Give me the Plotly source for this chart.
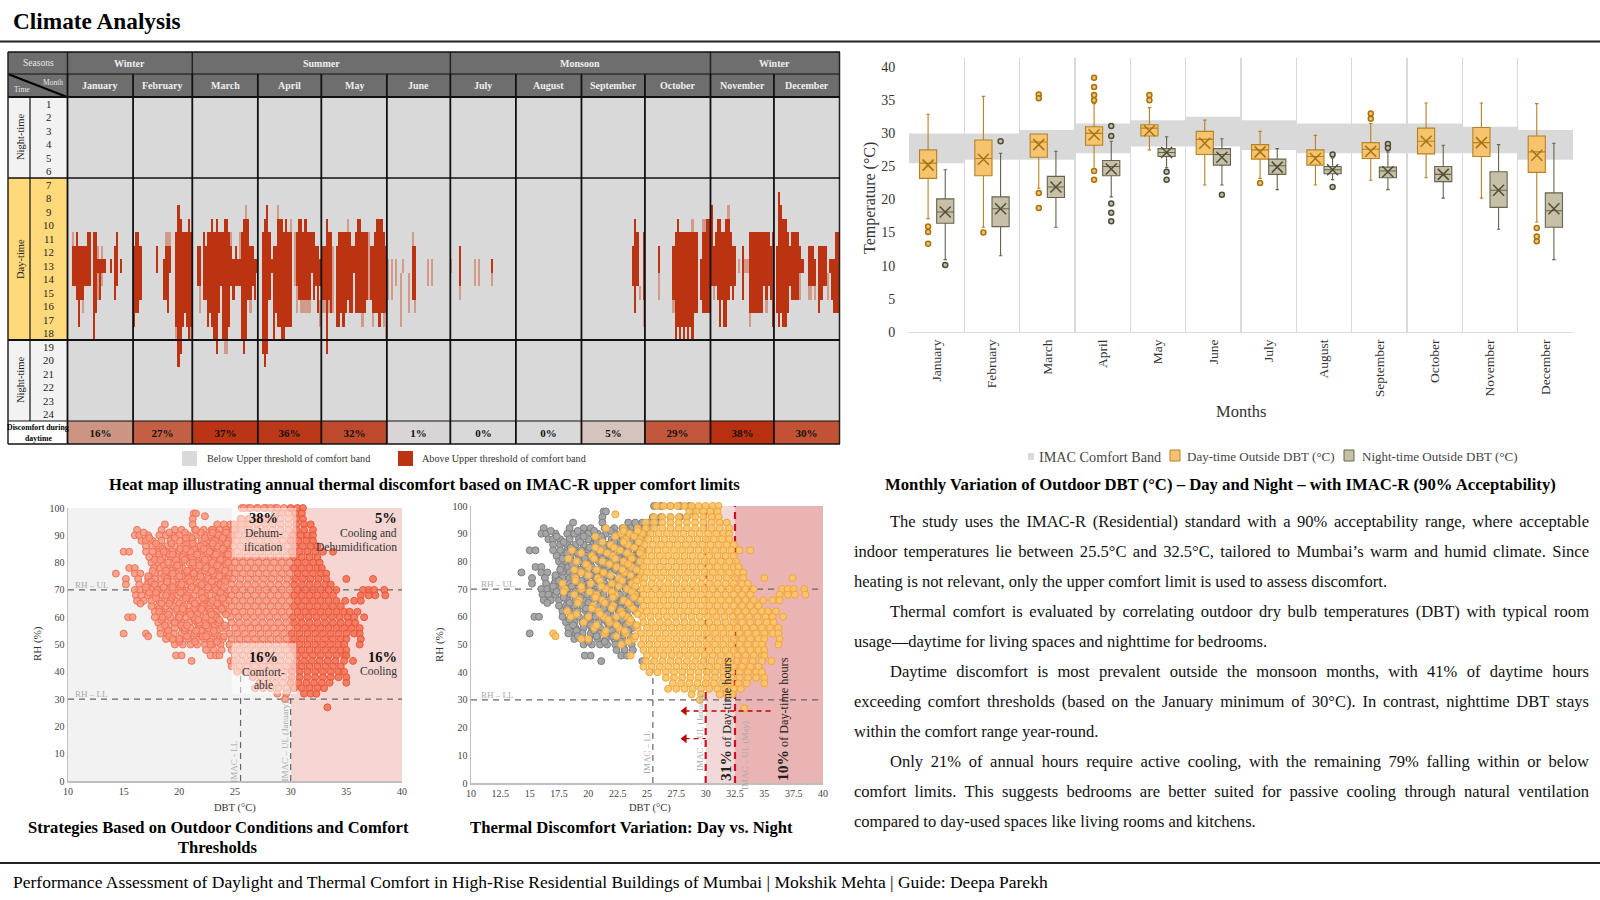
import json
import plotly.graph_objects as go

FONT = "Liberation Serif"
MONTHS = ["January","February","March","April","May","June","July","August","September","October","November","December"]
MONTH_DAYS = [31,28,31,30,31,30,31,31,30,31,30,31]
SEASONS = [("Winter",0,2),("Summer",2,6),("Monsoon",6,10),("Winter",10,12)]
DISCOMFORT = [16,27,37,36,32,1,0,0,5,29,38,30]

# first / last hour above threshold, per day (0 = none)
JAN_TOP=[0,0,12,12,11,12,12,12,12,11,11,0,11,11,13,13,13,13,0,0,13,0,12,11,0,13,0,0,0,0,0]
JAN_BOT=[0,0,14,14,15,17,15,15,14,14,14,0,18,16,13,15,13,13,0,0,13,0,15,14,0,13,0,0,0,0,0]
FEB_TOP=[12,11,11,12,0,0,0,0,0,0,0,12,0,0,13,12,12,12,0,0,11,9,10,11,11,11,10,11]
FEB_BOT=[17,16,16,15,0,0,0,0,0,0,0,13,0,0,15,15,16,13,0,0,17,20,19,17,16,17,18,17]
MAR_TOP=[0,0,12,12,0,11,12,11,11,10,11,10,11,11,11,10,10,11,12,13,12,13,13,11,10,10,10,12,12,13,13]
MAR_BOT=[0,0,14,14,0,15,15,17,16,17,18,19,16,14,18,18,18,17,14,15,14,14,14,18,19,18,15,15,14,15,13]
APR_TOP=[0,0,11,10,9,11,13,12,12,10,10,10,11,10,11,11,0,0,11,10,10,11,10,11,11,11,11,12,12,13]
APR_BOT=[0,0,19,20,19,15,13,18,16,17,17,18,18,17,17,17,0,0,14,15,15,15,15,15,15,13,15,14,16,14]
MAY_TOP=[12,12,10,11,11,0,0,12,11,11,11,11,11,11,12,12,11,10,10,11,11,11,0,12,12,11,10,10,10,11,12]
MAY_BOT=[15,15,19,15,16,0,0,17,17,16,17,16,15,16,16,13,16,16,16,16,16,15,0,15,16,16,16,17,16,16,16]
JUN_TOP=[0,0,0,0,0,0,0,0,0,0,0,0,12,12,0,0,0,0,0,0,0,0,0,0,0,0,0,0,0,0]
JUN_BOT=[0,0,0,0,0,0,0,0,0,0,0,0,15,15,0,0,0,0,0,0,0,0,0,0,0,0,0,0,0,0]
JUL_TOP=[0,0,0,0,12,0,0,0,0,0,0,0,0,0,0,0,0,0,0,13,0,0,0,0,0,0,0,0,0,0,0]
JUL_BOT=[0,0,0,0,14,0,0,0,0,0,0,0,0,0,0,0,0,0,0,13,0,0,0,0,0,0,0,0,0,0,0]
AUG_TOP=[0,0,0,0,0,0,0,0,0,0,0,0,0,0,0,0,0,0,0,0,0,0,0,0,0,0,0,0,0,0,0]
AUG_BOT=[0,0,0,0,0,0,0,0,0,0,0,0,0,0,0,0,0,0,0,0,0,0,0,0,0,0,0,0,0,0,0]
SEP_TOP=[0,0,0,0,0,0,0,0,0,0,0,0,0,0,0,0,0,0,0,0,0,0,0,0,12,10,11,0,0,11]
SEP_BOT=[0,0,0,0,0,0,0,0,0,0,0,0,0,0,0,0,0,0,0,0,0,0,0,0,14,16,14,0,0,15]
OCT_TOP=[0,0,0,0,0,0,12,0,0,0,0,0,0,12,11,10,11,11,11,11,11,11,11,11,11,0,13,11,11,10,10]
OCT_BOT=[0,0,0,0,0,0,13,0,0,0,0,0,0,15,18,17,18,17,18,17,18,17,18,16,16,0,15,16,16,16,16]
NOV_TOP=[9,12,11,10,10,11,11,10,10,11,12,12,0,0,0,12,0,0,11,11,11,11,11,11,11,11,11,11,12,11]
NOV_BOT=[14,14,14,15,17,15,17,17,15,14,15,14,0,0,0,15,0,0,16,16,16,16,16,16,16,14,15,14,15,17]
DEC_TOP=[0,12,8,9,10,10,11,12,11,11,11,11,12,13,0,0,12,12,12,13,0,12,12,12,12,0,13,13,13,11,11]
DEC_BOT=[0,16,17,16,17,17,16,14,15,15,15,15,13,13,0,0,14,14,14,14,0,16,15,14,14,0,13,15,16,16,16]
TOPS=[JAN_TOP,FEB_TOP,MAR_TOP,APR_TOP,MAY_TOP,JUN_TOP,JUL_TOP,AUG_TOP,SEP_TOP,OCT_TOP,NOV_TOP,DEC_TOP]
BOTS=[JAN_BOT,FEB_BOT,MAR_BOT,APR_BOT,MAY_BOT,JUN_BOT,JUL_BOT,AUG_BOT,SEP_BOT,OCT_BOT,NOV_BOT,DEC_BOT]
# partly-above hours: month, day, first hour, last hour
FAINT=[(1,3,11,11),(1,8,16,16),(1,15,12,12),(1,15,14,15),(1,17,12,14),(2,16,11,11),(2,17,11,11),(2,18,11,12),(2,21,18,18),(2,28,18,18),
(3,4,15,16),(3,12,19,19),(3,16,19,19),(3,17,19,19),(3,19,11,11),(3,23,11,12),(3,26,9,9),(3,28,16,16),
(4,10,9,9),(4,16,10,10),(4,18,11,14),(4,19,15,16),(4,21,16,16),(4,22,16,16),(4,23,16,16),(4,24,16,16),(4,25,16,16),(4,30,16,17),
(5,1,16,16),(5,2,16,16),(5,4,16,16),(5,6,12,16),(5,13,10,10),(5,20,17,17),(5,23,11,15),(5,25,17,17),(5,28,17,17),(5,30,17,17),(5,31,17,18),
(6,1,13,15),(6,3,13,15),(6,5,13,14),(6,7,14,17),(6,8,13,13),(6,11,14,16),(6,13,11,11),(6,14,16,16),(6,20,13,14),(6,22,13,14),
(7,1,13,13),(7,5,15,15),(7,12,13,14),(7,14,13,14),(7,20,14,14),
(9,28,15,15),(9,30,16,17),(10,7,14,15),(10,14,16,16),(10,23,10,10),(10,28,10,10),(10,29,10,10),
(11,2,15,15),(11,9,9,9),(11,14,13,13),(11,17,13,13),(11,18,13,13),(11,19,17,17),(11,27,16,16),
(12,13,14,15),(12,17,15,15),(12,18,15,15),(12,20,15,15),(12,23,15,15),(12,26,14,15)]

# monthly comfort band
BAND_LOW =[25.5,26,26,27,28,28,27.5,27,27,27,27,26]
BAND_HIGH=[30,30,30.5,31.5,32,32.5,32,31.5,31.5,31.5,31,30.5]
# day-time box statistics
DAY_WHI=[32.9,35.6,29.9,34.5,33.9,32,30.3,29.7,31.5,34.6,34.6,34.5]
DAY_Q3 =[27.5,29,29.9,31,31.3,30.3,28.3,27.5,28.6,30.8,30.9,29.6]
DAY_MED=[25.5,26.2,28.7,30,30.8,29.1,27.5,26.5,27.6,28.8,28.6,27.2]
DAY_Q1 =[23.2,23.6,26.4,28.2,29.6,26.8,26.1,25.2,26.2,26.9,26.5,24.1]
DAY_WLO=[17.1,15.8,21.7,24.6,27.5,22.2,23.2,22.2,22.9,23.3,20.2,16.6]
DAY_AVG=[25.2,26.1,28.3,29.8,30.4,28.5,27.2,26.2,27.3,28.8,28.6,26.7]
DAY_OUT_M=[0,0,0,1,2,2,2,2,3,3,3,3,3,3,4,4,6,8,8,11,11,11]
DAY_OUT_V=[15.9,15.1,13.3,15,35.9,35.3,21,18.7,38.4,37,35.8,35,24.3,23,35.8,35,22.5,33,32.2,15.7,14.4,13.7]
# night-time box statistics
NIGHT_WHI=[24.5,27,27.3,28.8,29.5,29.2,27.7,26.3,27.2,28.2,28.3,28.5]
NIGHT_Q3 =[20.1,20.4,23.5,25.9,27.7,27.7,26.1,25,24.9,25,24.2,21]
NIGHT_MED=[18.1,18.6,21.9,25,27.1,26.8,25.1,24.5,24.3,23.8,21.4,18.3]
NIGHT_Q1 =[16.4,15.9,20.3,23.6,26.5,25.2,23.8,23.9,23.3,22.7,18.8,15.8]
NIGHT_WLO=[10.9,11.5,15.8,20.4,24.8,22.2,21.5,23,21.5,20.2,15.5,10.9]
NIGHT_AVG=[18.1,18.6,21.9,24.6,27.1,26.4,24.9,24.5,24.2,23.8,21.4,18.6]
NIGHT_OUT_M=[0,1,3,3,3,3,3,4,4,5,7,7,8,8]
NIGHT_OUT_V=[10.1,28.8,31.1,29.6,19.4,18,16.7,24.2,23,20.7,26.8,21.9,28.4,27.8]

# hourly DBT readings grouped by RH
RH_LEVELS=[100,98,96,94,92,90,88,86,84,82,80,78,76,74,72,70,68,66,64,62,60,58,56,54,52,50,48,46,44,42,40,38,36,34,32,30]
NIGHT_DBT=[
[25.6,26.2,27,27.8,28.6],[21.3,21.5,29],[21.2,25.5,26.2,27,27.8,28.4],[18.7,21.2,23.4,24,24.6,25.2,25.8],
[16.2,18.4,19.6,20.2,21.4,22.2,22.9,23.6,24.2,24.8,25.3],[16,16.4,17.2,18.2,18.8,19.4,20,20.8,21.5,22.3,23,23.7,24.4,25],
[16.6,17,17.6,18.4,19.2,20,20.6,21.2,22,22.6,23.4,24.1,24.7],[17,17.6,18.2,18.9,19.6,20.4,21,21.7,22.4,23,23.8,24.5],
[15,15.5,17,17.6,18.2,18.8,19.4,20,20.8,21.4,22,22.8,23.4,24.1,24.7],[17.3,17.9,18.5,19.2,19.8,20.5,21.1,21.8,22.5,23.2,23.9,24.6],
[17.5,18.1,18.6,19.4,20.2,20.9,21.5,22.2,22.9,23.6,24.3],[15.5,16,17.7,18.3,18.9,19.6,20.3,21.1,21.7,22.4,23.1,23.8,24.5],
[14.3,16,16.5,17.8,18.4,19,19.7,20.5,21.2,21.9,22.6,23.3,24],[15.2,16.3,17.2,17.8,18.4,19,19.8,20.6,21.3,22,22.7,23.4,24.1],
[15.2,16.4,17.1,17.7,18.4,19.2,20,20.7,21.4,22.1,22.8,23.5],[16,16.5,17,17.6,18.2,19,19.6,20.3,21,21.8,22.5,23.2,23.9],
[16.1,16.6,17.2,17.9,18.5,19.2,19.9,20.6,21.3,22,22.7,23.4,24.1],[16.2,16.8,17.5,18.2,18.9,19.6,20.3,21,21.7,22.4,23.1,23.8],
[17.5,18.1,18.8,19.5,20.2,20.9,21.6,22.3,23,23.7],[17.8,18.4,19.1,19.8,20.5,21.2,21.9,22.6,23.3,24],
[15.4,15.8,17.8,18.5,19.2,19.9,20.6,21.3,22,22.7,23.4],[18.1,18.8,19.5,20.2,20.9,21.6,22.3,23,23.7],
[18.3,18.9,19.6,20.3,21,21.7,22.4,23.1,23.8],[15,18.3,18.9,19.5,20.2,20.9,21.6,22.3,23],
[18.8,19.4,20.1,20.8,21.5,22.2,22.9,23.6],[19.6,20.3,21,21.6,22.3,23,23.7],[22.4,23.1,23.8],[19.7,20.2,22.8,23.3],[21.1,24.6],[],[],[],[],[],[],[]]
DAY_DBT=[
[25.8,26.4,27,27.6,28.2,28.8,29.4,30,30.6,31.1],[28.6,29.2,29.8,30.4,31],[25.6,26.3,27,27.7,28.4,29.1,29.8,30.5,31.1],
[24.9,25.6,26.3,27,27.7,28.4,29.1,29.8,30.5,31.2,31.8],[24.2,24.9,25.6,26.3,27,27.7,28.4,29.1,29.8,30.5,31.2,32],
[22.8,23.5,24.6,25.3,26,26.7,27.4,28.1,28.8,29.5,30.2,30.9,31.5,32],[23.2,24.4,25.1,25.8,26.5,27.2,27.9,28.6,29.3,30,30.7,31.4,32],
[21.9,23.4,24.8,25.5,26.2,26.9,27.6,28.3,29,29.7,30.4,31.1,31.8,32.4],[18.6,21,22.7,24.5,25.2,25.9,26.6,27.3,28,28.7,29.4,30.1,30.8,31.5,32.2,32.9,33.8],
[20.3,22.1,23.6,24.7,25.4,26.1,26.8,27.5,28.2,28.9,29.6,30.3,31,31.7,32.4],[19,21.2,23,24.4,25,25.7,26.4,27.1,27.8,28.5,29.2,29.9,30.6,31.3,32,32.6],
[20,22.4,23.7,24.7,25.4,26.1,26.8,27.5,28.2,28.9,29.6,30.3,31,31.7,32.4,32.8],[19.4,21.3,23.1,24.5,25,25.7,26.4,27.1,27.8,28.5,29.2,29.9,30.6,31.3,32,32.7,33.2],
[18.9,20.8,22.6,24.4,24.8,25.5,26.2,26.9,27.6,28.3,29,29.7,30.4,31.1,31.8,32.5,33.2,35,37.4],[17.8,20.2,22,23.7,24.7,25.4,26.1,26.8,27.5,28.2,28.9,29.6,30.3,31,31.7,32.4,33.1,33.6],
[18,19.4,21.5,23.3,24.6,25,25.7,26.4,27.1,27.8,28.5,29.2,29.9,30.6,31.3,32,32.7,33.4,34.1,36.5,37,37.5,38.4],[18.8,20.7,22.3,24,24.7,25.4,26.1,26.8,27.5,28.2,28.9,29.6,30.3,31,31.7,32.4,33.1,33.8,36.3,37,37.6,38.5],
[19.2,21.2,23,24.5,25,25.7,26.4,27.1,27.8,28.5,29.2,29.9,30.6,31.3,32,32.7,33.4,34.1,34.9,35.7,36.3],[20.4,22.1,23.6,24.7,25.4,26.1,26.8,27.5,28.2,28.9,29.6,30.3,31,31.7,32.4,33.1,33.8,34.5],
[18.2,20.9,22.8,24.4,25,25.7,26.4,27.1,27.8,28.5,29.2,29.9,30.6,31.3,32,32.7,33.4,34.1,34.8,35.3,36],[18.5,20,21.3,22.4,23.3,24.6,25.3,26,26.7,27.4,28.1,28.8,29.5,30.2,30.9,31.6,32.3,33,33.7,34.4,35.1,35.7,36.6],
[19.6,21.8,23.5,24.7,25.4,26.1,26.8,27.5,28.2,28.9,29.6,30.3,31,31.7,32.4,33.1,33.8,34.5,35.2,35.8],[20.5,22.6,24.2,25,25.7,26.4,27.1,27.8,28.5,29.2,29.9,30.6,31.3,32,32.7,33.4,34.1,34.8,35.5,36.2],
[17,21.4,23.2,24.5,25.2,25.9,26.6,27.3,28,28.7,29.4,30.1,30.8,31.5,32.2,32.9,33.6,34.3,35,35.7,36.2],[20,23.9,24.7,25.4,26.1,26.8,27.5,28.2,28.9,29.6,30.3,31,31.7,32.4,33.1,33.8,34.5,35,36.3],
[22.8,24.5,25.2,25.9,26.6,27.3,28,28.7,29.4,30.1,30.8,31.5,32.2,32.9,33.6,34.3,34.8,36.2],[24.7,25.4,26.1,26.8,27.5,28.2,28.9,29.6,30.3,31,31.7,32.4,33.1,33.8,34.5,35],
[23.6,25,25.7,26.4,27.1,27.8,28.5,29.2,29.9,30.6,31.3,32,32.7,33.4,34.1,34.8,35],[24.9,25.6,26.3,27,27.7,28.4,29.1,29.8,30.5,31.2,31.9,32.6,33.3,34,34.8,35.6],
[24.7,25.4,26.1,26.8,27.5,28.2,28.9,29.6,30.3,31,31.7,32.4,33.1,33.8,34.5],[25.2,25.9,26.6,27.3,28,28.7,29.4,30.1,30.8,31.5,32.2,32.9,33.6,34.3,34.8],
[26.6,27.3,28,28.7,29.4,30.1,30.8,31.5,32.2,32.9,33.6,34.3,35],[27.2,27.9,28.6,29.3,30,30.7,31.4,32.1,32.8,33.5,35],
[26.8,27.5,28.2,28.9,29.6,30.3,31,31.7,32.4,33],[28.8,29.6,31.2,31.8,32.3],[29.5]]
DAY_EXTRA_RH=[97,27,92,92,89,53,52]
DAY_EXTRA_DBT=[22.3,33.3,23,21.5,20.6,17.2,19.4]
# readings on the odd RH levels
ODD_RH=[91,89,87,85,83,81,79,77,75,73,71,69,67,65,63,61,59,57,55,53,51]
NIGHT_ODD=[[16.8,19.1,20.5,21.9,23.3,24.5],[17.3,19.6,21.1,22.9,24.4],[17.9,19.3,20.7,22.2,23.6],[18.5,20.1,21.3,22.5,24],[18.2,19.1,20.4,21.9,23.1,24.3],
[17.8,19.7,21.2,22.6,23.9],[18.6,20,21.4,22.9,24.2],[17.6,19.3,20.9,22.3,23.5],[17.2,18.7,20.2,21.6,23,24.4],[17.5,19.4,20.9,22.4,23.8],[17,18.6,20.1,21.7,23.1],
[17.3,18.9,20.4,22,23.6],[17.9,19.3,20.9,22.3,23.5],[16.5,18.4,20,21.4,22.8,24.2],[18.2,19.8,21.3,22.7,24],[18.6,20.1,21.6,23.1],[18.4,19.9,21.4,22.9],
[18.7,20.2,21.8,23.2],[19,20.5,22,23.4],[19.1,20.7,22.1,23.6],[20,21.4,22.8]]
DAY_ODD=[[23,24.2],[22.3,23.9],[21.2,23,24.3],[20.6,22.2,23.9],[19.4,21.6,23.3,24.4],[18.3,20.5,22.3,23.7],[19.8,21.8,23.4],[18.8,20.7,22.9,24.1],[20,21.9,23.6],
[18.9,21,22.9,24.1],[19.4,21.1,22.6,24],[17.9,20.1,22,23.7],[20.6,22.1,23.9],[19.1,21.4,23.4],[20.3,22,23.8],[19,21,22.9,24.2],[21.7,23.6],[20.7,22.4,24.1],[21.5,23.1],[22.4,24],[23.4]]

PARAGRAPH=[
(1,"The study uses the IMAC-R (Residential) standard with a 90% acceptability range, where acceptable",True),
(0,"indoor temperatures lie between 25.5°C and 32.5°C, tailored to Mumbai’s warm and humid climate. Since",True),
(0,"heating is not relevant, only the upper comfort limit is used to assess discomfort.",False),
(1,"Thermal comfort is evaluated by correlating outdoor dry bulb temperatures (DBT) with typical room",True),
(0,"usage—daytime for living spaces and nighttime for bedrooms.",False),
(1,"Daytime discomfort is most prevalent outside the monsoon months, with 41% of daytime hours",True),
(0,"exceeding comfort thresholds (based on the January minimum of 30°C). In contrast, nighttime DBT stays",True),
(0,"within the comfort range year-round.",False),
(1,"Only 21% of annual hours require active cooling, with the remaining 79% falling within or below",True),
(0,"comfort limits. This suggests bedrooms are better suited for passive cooling through natural ventilation",True),
(0,"compared to day-used spaces like living rooms and kitchens.",False)]
PARA_Y=[521.5,551.5,581.5,611,641,671,701,731,761,791,821]

W,H=1600,900
fx=lambda x:x/W
fy=lambda y:1-y/H
fig=go.Figure()
shapes=[];anns=[]
def ann(x,y,t,size=10,color="#000",anchor="center",angle=0,align=None,ref=None):
    d=dict(x=fx(x) if ref is None else x,y=fy(y) if ref is None else y,
           xref="paper" if ref is None else "x"+ref,yref="paper" if ref is None else "y"+ref,
           text=t,showarrow=False,xanchor=anchor,yanchor="middle",textangle=angle,borderpad=0,
           font=dict(family=FONT,size=size,color=color),align=align or anchor if anchor!="center" else "center")
    anns.append(d)
def rect(x0,y0,x1,y1,fill,line=None,lw=0,layer="below"):
    shapes.append(dict(type="rect",xref="paper",yref="paper",x0=fx(x0),x1=fx(x1),y0=fy(y0),y1=fy(y1),fillcolor=fill,
                       line=dict(color=line or fill,width=lw),layer=layer))
def seg(x0,y0,x1,y1,c="#000",w=1.5,layer="above",dash="solid"):
    shapes.append(dict(type="line",xref="paper",yref="paper",x0=fx(x0),x1=fx(x1),y0=fy(y0),y1=fy(y1),line=dict(color=c,width=w,dash=dash),layer=layer))
def dline(ax,x0,y0,x1,y1,c="#666",w=1.2,dash="6px,5px",layer="below"):
    shapes.append(dict(type="line",xref="x"+ax,yref="y"+ax,x0=x0,x1=x1,y0=y0,y1=y1,line=dict(color=c,width=w,dash=dash),layer=layer))
def drect(ax,x0,y0,x1,y1,fill,layer="below"):
    shapes.append(dict(type="rect",xref="x"+ax,yref="y"+ax,x0=x0,x1=x1,y0=y0,y1=y1,fillcolor=fill,line=dict(width=0),layer=layer))

# ---- page furniture
ann(12,21,"<b>Climate Analysis</b>",23.3,anchor="left")
seg(0,41.5,W,41.5,"#222",2)
seg(0,863,W,863,"#222",2)
ann(12,881.5,"Performance Assessment of Daylight and Thermal Comfort in High-Rise Residential Buildings of Mumbai | Mokshik Mehta | Guide: Deepa Parekh",17.5,anchor="left")

# ---- heat map
X0,X1,Y0,Y1=67.5,839.5,97,421
edges=[0]
for d in MONTH_DAYS: edges.append(edges[-1]+d)
px=lambda day:X0+(X1-X0)*day/365
z=[[0 for _ in range(365)] for _ in range(24)]
for m,day,a,b in FAINT:
    for h in range(a,b+1): z[h-1][edges[m-1]+day-1]=0.5
for m in range(12):
    for i,(a,b) in enumerate(zip(TOPS[m],BOTS[m])):
        if a:
            for h in range(a,b+1): z[h-1][edges[m]+i]=1
fig.add_trace(go.Heatmap(z=z,x=[i+.5 for i in range(365)],y=[h+.5 for h in range(24)],zmin=0,zmax=1,showscale=False,hoverinfo="skip",
    colorscale=[[0,"#d9d9d9"],[.5,"#d29a8b"],[1,"#bb3310"]],xaxis="x",yaxis="y"))
fig.add_trace(go.Heatmap(z=[DISCOMFORT],x=edges,y=[0,1],zmin=0,zmax=38,showscale=False,hoverinfo="skip",
    colorscale=[[0,"#d9d9d9"],[.42,"#cc9583"],[.75,"#c2583c"],[1,"#b93010"]],
    texttemplate="<b>%{z}%</b>",textfont=dict(family=FONT,size=11,color="#111"),xaxis="x2",yaxis="y2"))
# table chrome
rect(8,52,840,97,"#6e6e6e")
rect(8,97,30,178,"#f2f2f2");rect(30,97,67,178,"#f2f2f2")
rect(8,178,67,340,"#ffd97a")
rect(8,340,67,421,"#f2f2f2")
rect(8,421,67,444,"#ffffff")
ann(38,63,"Seasons",9.5,"#e8e8e8")
ann(53,82,"Month",7.5,"#e8e8e8")
ann(22,90,"Time",7.5,"#e8e8e8")
seg(8,74,67,97,"#000",2)
for name,a,b in SEASONS:
    ann((px(edges[a])+px(edges[b]))/2,63,f"<b>{name}</b>",10,"#eeeeee")
    seg(px(edges[a]),52,px(edges[a]),74,"#222",1.5)
for m,name in enumerate(MONTHS):
    ann((px(edges[m])+px(edges[m+1]))/2,85,f"<b>{name}</b>",10,"#eeeeee")
    seg(px(edges[m]),74,px(edges[m]),444,"#111",1.8)
seg(X1,52,X1,444,"#222",1.5)
for y,w in [(52,1.5),(74,1.2),(97,2),(178,1.5),(340,2),(421,1.2),(444,1.5)]:
    seg(8,y,840,y,"#111",w)
seg(8,52,8,444,"#222",1.5);seg(30,97,30,421,"#111",1.2)
for h in range(1,25):
    ann(48.5,Y0+13.5*(h-.5),str(h),10.8,"#222")
ann(20,137,"Night-time",10.5,"#222",angle=-90)
ann(20,259,"Day-time",10.5,"#222",angle=-90)
ann(20,380,"Night-time",10.5,"#222",angle=-90)
ann(38,427,"<b>Discomfort during</b>",7.8)
ann(38,438,"<b>daytime</b>",7.8)
rect(182,451,197,466,"#d9d9d9");rect(398,451,413,466,"#bb3310")
ann(206,458.5,"Below Upper threshold of comfort band",10.2,"#333",anchor="left")
ann(421,458.5,"Above Upper threshold of comfort band",10.2,"#333",anchor="left")
ann(424,484,"<b>Heat map illustrating annual thermal discomfort based on IMAC-R upper comfort limits</b>",16.6)

# ---- monthly box plot
POS=list(range(12))
fig.add_trace(go.Bar(x=POS,y=[h-l for h,l in zip(BAND_HIGH,BAND_LOW)],base=BAND_LOW,width=1,marker=dict(color="#d9d9d9",line=dict(width=0)),hoverinfo="skip",xaxis="x3",yaxis="y3"))
def boxes(off,wh,q3,med,q1,lo,fill,line):
    fig.add_trace(go.Box(x=[p+off for p in POS],q1=q1,median=med,q3=q3,lowerfence=lo,upperfence=wh,width=.31,fillcolor=fill,whiskerwidth=.2,
        line=dict(color=line,width=1.1),boxpoints=False,hoverinfo="skip",xaxis="x3",yaxis="y3"))
def points(off,m,v,avg,fill,line):
    fig.add_trace(go.Scatter(x=[i+off for i in m],y=v,mode="markers",marker=dict(symbol="circle",size=5,color=fill,line=dict(color=line,width=1.5)),hoverinfo="skip",xaxis="x3",yaxis="y3"))
    fig.add_trace(go.Scatter(x=[p+off for p in POS],y=avg,mode="markers",marker=dict(symbol="x-thin",size=11,line=dict(color=line,width=1.5)),hoverinfo="skip",xaxis="x3",yaxis="y3"))
boxes(-.155,DAY_WHI,DAY_Q3,DAY_MED,DAY_Q1,DAY_WLO,"#f6c36f","#b48226")
boxes(.155,NIGHT_WHI,NIGHT_Q3,NIGHT_MED,NIGHT_Q1,NIGHT_WLO,"#c6c0a6","#66644f")
points(-.155,DAY_OUT_M,DAY_OUT_V,DAY_AVG,"#f6c36f","#a8730f")
points(.155,NIGHT_OUT_M,NIGHT_OUT_V,NIGHT_AVG,"#c6c0a6","#4f4d38")
ann(870,198,"Temperature (°C)",16,"#333",angle=-90)
ann(1241,411,"Months",16.5,"#333")
rect(1028,453,1034,460,"#d9d9d9")
ann(1038,457,"IMAC Comfort Band",14.2,"#444",anchor="left")
rect(1170,450,1180,461,"#f6c36f","#b48226",1)
ann(1186,456,"Day-time Outside DBT (°C)",13,"#444",anchor="left")
rect(1344,450,1354,461,"#c6c0a6","#66644f",1)
ann(1361,456,"Night-time Outside DBT (°C)",13,"#444",anchor="left")
ann(1220,484,"<b>Monthly Variation of Outdoor DBT (°C) – Day and Night – with IMAC-R (90% Acceptability)</b>",16.7)

# ---- shared hourly readings
ND_X=[v for row in NIGHT_DBT for v in row]+[v for row in NIGHT_ODD for v in row]
ND_Y=[rh for rh,row in zip(RH_LEVELS,NIGHT_DBT) for _ in row]+[rh for rh,row in zip(ODD_RH,NIGHT_ODD) for _ in row]
DY_X=[v for row in DAY_DBT for v in row]+DAY_EXTRA_DBT+[v for row in DAY_ODD for v in row]
DY_Y=[rh for rh,row in zip(RH_LEVELS,DAY_DBT) for _ in row]+DAY_EXTRA_RH+[rh for rh,row in zip(ODD_RH,DAY_ODD) for _ in row]
ALL_X=ND_X+DY_X
ALL_Y=ND_Y+DY_Y

# ---- left scatter
drect("4",10,0,30,100,"#f2f2f2");drect("4",30,0,40,100,"#f6d6d3")
for v in (70,30): dline("4",10,v,40,v)
dline("4",25.5,0,25.5,40);dline("4",30,0,30,40)
fig.add_trace(go.Scatter(x=[a for a in ALL_X if a<30],y=[b for a,b in zip(ALL_X,ALL_Y) if a<30],mode="markers",cliponaxis=False,hoverinfo="skip",
    marker=dict(size=7,color="rgba(246,150,125,.85)",line=dict(color="rgba(240,105,80,.85)",width=1)),xaxis="x4",yaxis="y4"))
fig.add_trace(go.Scatter(x=[a for a in ALL_X if a>=30],y=[b for a,b in zip(ALL_X,ALL_Y) if a>=30],mode="markers",cliponaxis=False,hoverinfo="skip",
    marker=dict(size=7,color="rgba(240,110,80,.85)",line=dict(color="rgba(236,80,50,.9)",width=1)),xaxis="x4",yaxis="y4"))
drect("4",24.7,82,30.5,100,"rgba(255,255,255,.5)",layer="above")
drect("4",24.7,32,30.5,50.5,"rgba(255,255,255,.5)",layer="above")
def tl(x,y,t,size=11.5,c="#333",anchor="center"): ann(x,y,t,size,c,anchor,ref="4")
tl(27.6,96.5,"<b>38%</b>",14.5,"#111");tl(27.6,90.8,"Dehum-");tl(27.6,85.8,"ification")
tl(39.6,96.5,"<b>5%</b>",14.5,"#111","right");tl(39.6,90.8,"Cooling and",11.5,"#333","right");tl(39.6,85.8,"Dehumidification",11.5,"#333","right")
tl(27.6,45.4,"<b>16%</b>",14.5,"#111");tl(27.6,40,"Comfort-");tl(27.6,35,"able")
tl(39.6,45.4,"<b>16%</b>",14.5,"#111","right");tl(39.6,40,"Cooling",11.5,"#333","right")
tl(10.5,71.7,"RH – UL",9,"#aaa","left");tl(10.5,31.7,"RH – LL",9,"#aaa","left")
ann(24.9,7,"IMAC - LL",9,"#aaa",angle=-90,ref="4")
ann(29.5,14.5,"IMAC – UL (January)",9,"#aaa",angle=-90,ref="4")
ann(37,644,"RH (%)",11,"#333",angle=-90)
ann(235,808,"DBT (°C)",10.5,"#333")
ann(218,827.5,"<b>Strategies Based on Outdoor Conditions and Comfort</b>",16.6)
ann(218,847,"<b>Thresholds</b>",16.6)

# ---- right scatter
drect("5",30,0,32.5,100,"#f2d8d8");drect("5",32.5,0,40,100,"#ebb4b4")
for v in (70,30): dline("5",10,v,40,v)
dline("5",25.5,0,25.5,45)
dline("5",30,0,30,100,"#d01020",2.2,"7px,5px");dline("5",32.5,0,32.5,100,"#d01020",2.2,"7px,5px")
fig.add_trace(go.Scatter(x=ND_X,y=ND_Y,mode="markers",cliponaxis=False,hoverinfo="skip",
    marker=dict(size=7,color="#a6a6a6",line=dict(color="#7f7f7f",width=1)),xaxis="x5",yaxis="y5"))
fig.add_trace(go.Scatter(x=DY_X,y=DY_Y,mode="markers",cliponaxis=False,hoverinfo="skip",
    marker=dict(size=7,color="rgba(250,196,105,.92)",line=dict(color="#f0a535",width=1)),xaxis="x5",yaxis="y5"))
dline("5",28.2,26,35.8,26,"#c00000",1.3,"5px,4px",layer="above");dline("5",28.2,16,30,16,"#c00000",1.3,"5px,4px",layer="above")
ARROW_X=[28.2,28.2];ARROW_Y=[26,16]
fig.add_trace(go.Scatter(x=ARROW_X,y=ARROW_Y,mode="markers",hoverinfo="skip",marker=dict(symbol="triangle-left",size=8,color="#c00000"),xaxis="x5",yaxis="y5"))
ann(10.8,71.8,"RH – UL",9,"#aaa","left",ref="5");ann(10.8,31.8,"RH – LL",9,"#aaa","left",ref="5")
ann(647,752,"IMAC – LL",9,"#aaa",angle=-90)
ann(700,731,"IMAC – UL (January)",9,"#aaa",angle=-90)
ann(745,756,"IMAC – UL (May)",9,"#aaa",angle=-90)
ann(725,719,'<span style="font-size:15.5px"><b>31%</b></span> of Day-time hours',12.2,"#222",angle=-90)
ann(782,719,'<span style="font-size:15.5px"><b>10%</b></span> of Day-time hours',12.2,"#222",angle=-90)
ann(439,644,"RH (%)",11,"#333",angle=-90)
ann(650,808,"DBT (°C)",10.5,"#333")
ann(631,827.5,"<b>Thermal Discomfort Variation: Day vs. Night</b>",16.7)

# ---- text
just={}
for (ind,t,j),y in zip(PARAGRAPH,PARA_Y):
    x=889 if ind else 853
    ann(x,y,t,16.55,"#111",anchor="left",align="left")
    if j: just[t]=1588-x

axfont=dict(family=FONT,size=10,color="#444")
hide=dict(visible=False,fixedrange=True,automargin=False)
layout_axes=dict(
 xaxis=dict(domain=[fx(X0),fx(X1)],range=[0,365],anchor="y",**hide),
 yaxis=dict(domain=[fy(Y1),fy(Y0)],range=[24,0],anchor="x",**hide),
 xaxis2=dict(domain=[fx(X0),fx(X1)],range=[0,365],anchor="y2",**hide),
 yaxis2=dict(domain=[fy(444),fy(421)],range=[0,1],anchor="x2",**hide),
 xaxis3=dict(automargin=False,domain=[fx(909),fx(1573)],range=[-.5,11.5],anchor="y3",tickvals=POS,ticktext=MONTHS,tickangle=-90,ticks="outside",ticklen=1,tickcolor="rgba(0,0,0,0)",
    showgrid=False,showline=True,linecolor="#d9d9d9",linewidth=1.5,zeroline=False,tickfont=dict(family=FONT,size=13.5,color="#333"),
    minor=dict(tickvals=[i-.5 for i in range(13)],showgrid=True,gridcolor="#d9d9d9",gridwidth=1.5,ticks="")),
 yaxis3=dict(automargin=False,domain=[fy(331.7),fy(57.7)],range=[0,41.45],anchor="x3",tickvals=[0,5,10,15,20,25,30,35,40],showgrid=False,zeroline=False,
    ticks="outside",ticklen=10,tickcolor="rgba(0,0,0,0)",tickfont=dict(family=FONT,size=14,color="#333")),
 xaxis4=dict(automargin=False,domain=[fx(68),fx(402)],range=[10,40],anchor="y4",tickvals=[10,15,20,25,30,35,40],showgrid=False,zeroline=False,showline=True,linecolor="#bfbfbf",linewidth=1.5,tickfont=axfont),
 yaxis4=dict(automargin=False,domain=[fy(781),fy(508)],range=[0,100],anchor="x4",tickvals=list(range(0,101,10)),showgrid=False,zeroline=False,showline=True,linecolor="#bfbfbf",linewidth=1.5,tickfont=axfont),
 xaxis5=dict(automargin=False,domain=[fx(471),fx(823)],range=[10,40],anchor="y5",tickvals=[10+2.5*i for i in range(13)],ticktext=["10","12.5","15","17.5","20","22.5","25","27.5","30","32.5","35","37.5","40"],showgrid=False,zeroline=False,showline=True,linecolor="#bfbfbf",linewidth=1.5,tickfont=axfont),
 yaxis5=dict(automargin=False,domain=[fy(783),fy(506)],range=[0,100],anchor="x5",tickvals=list(range(0,101,10)),showgrid=False,zeroline=False,showline=True,linecolor="#bfbfbf",linewidth=1.5,tickfont=axfont),
)
fig.update_layout(width=W,height=H,margin=dict(l=0,r=0,t=0,b=0,autoexpand=False),paper_bgcolor="white",plot_bgcolor="rgba(0,0,0,0)",showlegend=False,
    shapes=shapes,annotations=anns,boxmode="overlay",font=dict(family=FONT),**layout_axes)

post="document.body.style.margin='0';document.body.style.overflow='hidden';var J="+json.dumps(just,ensure_ascii=False)+";"\
"document.querySelectorAll('.annotation-text').forEach(function(t){var w=J[t.textContent];if(w){var n=t.textContent.split(' ').length-1;var c=t.getComputedTextLength();t.style.wordSpacing=((w-c)/n)+'px';}});"
fig.write_html("out.html",post_script=post,config=dict(displayModeBar=False,staticPlot=True))
